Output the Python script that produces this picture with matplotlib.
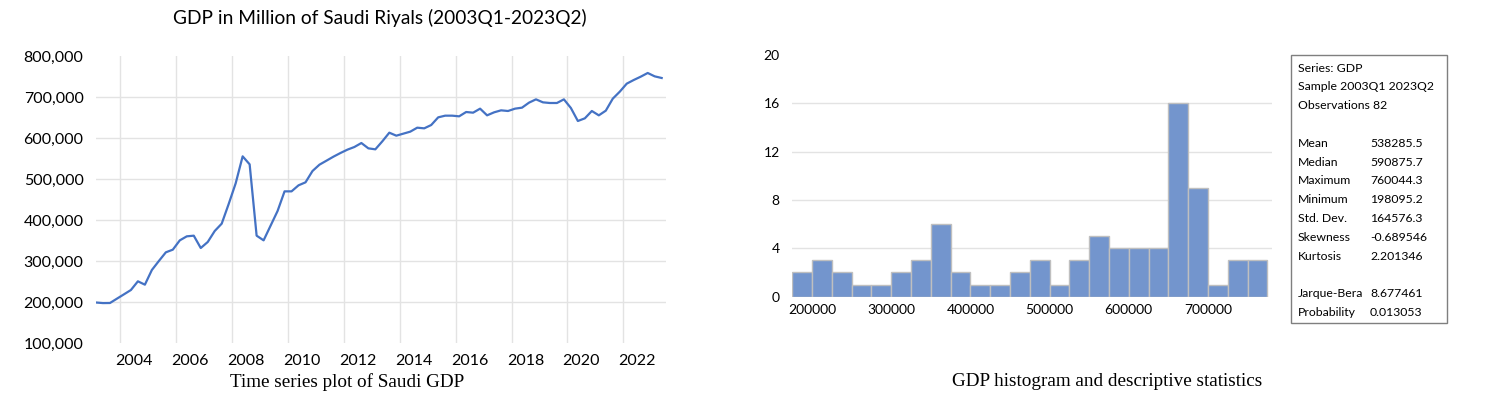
import numpy as np
import matplotlib.pyplot as plt
from matplotlib.ticker import FuncFormatter

# Quarterly GDP, million SAR, 2003Q1 .. 2023Q2
gdp = [199.5, 198.1, 198.3, 208.9, 219.4, 230.0, 251.2, 243.0,
       278.8, 300.7, 321.9, 328.4, 351.1, 360.9, 362.5, 332.4,
       347.1, 373.9, 391.8, 439.8, 490.2, 556.0, 536.5, 362.5,
       351.1, 386.9, 422.7, 470.6, 470.6, 485.3, 492.6, 520.2,
       535.7, 545.4, 555.2, 564.1, 572.3, 578.8, 588.5, 575.5,
       573.1, 592.6, 613.7, 606.4, 611.3, 616.2, 625.9, 624.3,
       632.4, 651.1, 655.2, 655.2, 653.6, 664.1, 662.5, 672.3,
       656.0, 663.3, 668.2, 666.6, 672.3, 674.7, 686.9, 695.0,
       687.7, 686.1, 686.1, 695.0, 673.9, 642.2, 648.7, 666.6,
       656.0, 667.4, 696.7, 713.7, 733.3, 742.2, 750.3, 759.3,
       751.1, 747.1]
gdp = np.array(gdp) * 1000
start_year = 2003
year_ticks = list(range(2004, 2023, 2))

# histogram of GDP
bin_start = 175000
bin_width = 25000
counts = [2, 3, 2, 1, 1, 2, 3, 6, 2, 1, 1, 2, 3, 1, 3, 5, 4, 4, 4, 16, 9, 1, 3, 3]
hist_xticks = [200000, 300000, 400000, 500000, 600000, 700000]

stats_head = ["Series: GDP", "Sample 2003Q1 2023Q2", "Observations 82"]
stats_rows = [("Mean", "538285.5"), ("Median", "590875.7"), ("Maximum", "760044.3"),
              ("Minimum", "198095.2"), ("Std. Dev.", "164576.3"),
              ("Skewness", "-0.689546"), ("Kurtosis", "2.201346")]
stats_tail = [("Jarque-Bera", "8.677461"), ("Probability", "0.013053")]

W, H = 1499, 395
sans = ['Lato', 'DejaVu Sans']
serif = ['Liberation Serif', 'DejaVu Serif']
plt.rcParams['font.family'] = sans
line_col = '#4472C4'
bar_col = '#7395CD'
grid_col = '#E3E3E3'


def fx(px):
    return px / W


def fy(py):
    return 1 - py / H


fig = plt.figure(figsize=(W / 100, H / 100), dpi=100)

# ---- time series plot
ax = fig.add_axes([fx(96), fy(343.3), fx(666) - fx(96), fy(56.3) - fy(343.3)])
t = start_year + np.arange(len(gdp)) / 4 + 0.125
ax.plot(t, gdp, color=line_col, lw=1.6)
ax.set_xlim(2003.125, 2023.53)
ax.set_ylim(100000, 800000)
ax.set_yticks(np.arange(100000, 800001, 100000))
ax.yaxis.set_major_formatter(FuncFormatter(lambda v, p: f"{int(v):,}"))
ax.set_xticks(year_ticks, minor=True)
ax.set_xticks([y + 0.5 for y in year_ticks])
ax.set_xticklabels([str(y) for y in year_ticks])
ax.tick_params(axis='both', which='both', length=0, labelsize=11.5)
ax.tick_params(axis='y', pad=9)
ax.tick_params(axis='x', pad=8)
ax.grid(True, axis='y', color=grid_col, lw=1)
ax.grid(True, axis='x', which='minor', color=grid_col, lw=1)
gl = ax.get_ygridlines()
gl[0].set_visible(False)
gl[-1].set_visible(False)
for s in ax.spines.values():
    s.set_visible(False)
ax.set_axisbelow(True)

fig.text(fx(380), fy(18), "GDP in Million of Saudi Riyals (2003Q1-2023Q2)",
         ha='center', va='center', fontsize=13.8)
fig.text(fx(347), fy(382), "Time series plot of Saudi GDP", ha='center', va='center',
         fontsize=13.8, family=serif)

# ---- histogram
ax2 = fig.add_axes([fx(792.2), fy(296.6), fx(1271.7) - fx(792.2), fy(55) - fy(296.6)])
edges = bin_start + bin_width * np.arange(len(counts))
ax2.bar(edges, counts, width=bin_width, align='edge', color=bar_col,
        edgecolor='#BFBFBF', lw=1, zorder=2)
ax2.set_xlim(bin_start, 780500)
ax2.set_ylim(0, 20)
ax2.set_yticks(range(0, 21, 4))
ax2.set_xticks(hist_xticks)
ax2.set_xticklabels([str(v) for v in hist_xticks])
ax2.tick_params(axis='both', length=0, labelsize=10)
ax2.tick_params(axis='y', pad=9)
ax2.tick_params(axis='x', pad=5)
ax2.grid(True, axis='y', color=grid_col, lw=1)
gl = ax2.get_ygridlines()
gl[0].set_visible(False)
gl[-1].set_visible(False)
for s in ax2.spines.values():
    s.set_visible(False)
ax2.set_axisbelow(True)

# ---- statistics box
box = plt.Rectangle((fx(1291), fy(323)), fx(1447) - fx(1291), fy(55) - fy(323),
                    transform=fig.transFigure, fill=False, edgecolor='#7F7F7F', lw=1)
fig.add_artist(box)
ys = 68
step = 18.8
fs = 8.8
for s in stats_head:
    fig.text(fx(1298), fy(ys), s, va='center', fontsize=fs)
    ys += step
ys += step
for lab, val in stats_rows:
    fig.text(fx(1298), fy(ys), lab, va='center', fontsize=fs)
    fig.text(fx(1370), fy(ys), val, va='center', fontsize=fs)
    ys += step
ys += step
for lab, val in stats_tail:
    fig.text(fx(1298), fy(ys), lab, va='center', fontsize=fs)
    fig.text(fx(1370), fy(ys), val, va='center', fontsize=fs)
    ys += step

fig.text(fx(1107), fy(382), "GDP histogram and descriptive statistics", ha='center',
         va='center', fontsize=13.8, family=serif)

fig.savefig('out.png', dpi=100)
